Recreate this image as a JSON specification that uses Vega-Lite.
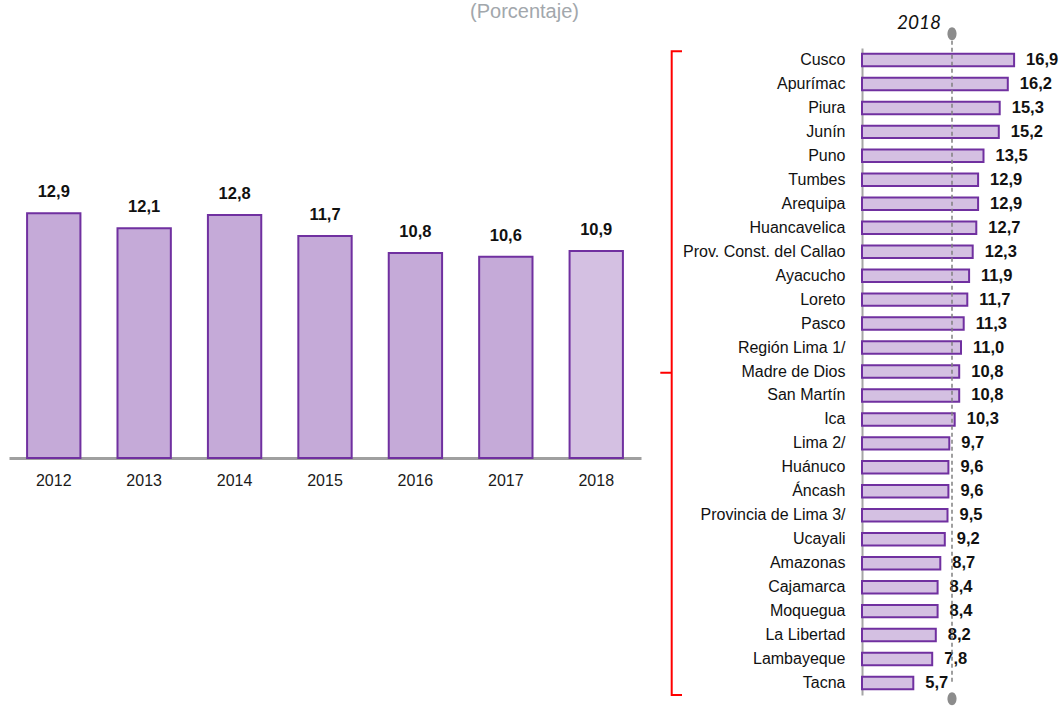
{
  "$schema": "https://vega.github.io/schema/vega-lite/v6.json",
  "padding": {"left": 9, "top": 2, "right": 0, "bottom": 0},
  "autosize": {"type": "pad"},
  "bounds": "flush",
  "spacing": 19,
  "title": {"text": "(Porcentaje)", "anchor": "middle", "font": "Liberation Sans", "fontSize": 20, "fontWeight": "normal", "color": "#a2a7ac", "dx": -10, "offset": -8},
  "config": {
    "view": {"stroke": null},
    "locale": {"number": {"decimal": ",", "thousands": ".", "grouping": [3], "currency": ["", ""]}}
  },
  "hconcat": [
    {
      "width": 632,
      "height": 410,
      "data": {"values": [
        {"anio": "2012", "valor": 12.9, "serie": "historico"},
        {"anio": "2013", "valor": 12.1, "serie": "historico"},
        {"anio": "2014", "valor": 12.8, "serie": "historico"},
        {"anio": "2015", "valor": 11.7, "serie": "historico"},
        {"anio": "2016", "valor": 10.8, "serie": "historico"},
        {"anio": "2017", "valor": 10.6, "serie": "historico"},
        {"anio": "2018", "valor": 10.9, "serie": "actual"}
      ]},
      "encoding": {
        "x": {"field": "anio", "type": "ordinal", "scale": {"paddingInner": 0.41, "paddingOuter": 0.2},
          "axis": {"title": null, "labelAngle": 0, "ticks": false, "domainColor": "#a0a0a0", "domainWidth": 3,
            "labelFont": "Liberation Sans", "labelFontSize": 16, "labelColor": "#1a1a1a", "labelPadding": 14}},
        "y": {"field": "valor", "type": "quantitative", "scale": {"domain": [0, 21.6]}, "axis": null}
      },
      "layer": [
        {"mark": {"type": "bar", "stroke": "#7030a0", "strokeWidth": 2},
         "encoding": {"fill": {"field": "serie", "type": "nominal", "scale": {"domain": ["historico", "actual"], "range": ["#c5aad8", "#d4c0e2"]}, "legend": null}}},
        {"mark": {"type": "text", "dy": -21, "baseline": "middle", "fontWeight": "bold", "fontSize": 16.5, "font": "Liberation Sans", "color": "#111111"},
         "encoding": {"text": {"field": "valor", "type": "quantitative", "format": ".1f"}}}
      ]
    },
    {
      "width": 183,
      "height": 647,
      "data": {"values": [
        {"i": 0, "bx": 22, "by": 0.995},
        {"i": 1, "bx": 11.7, "by": 0.995},
        {"i": 2, "bx": 11.7, "by": 0.498},
        {"i": 3, "bx": 0.3, "by": 0.498},
        {"i": 4, "bx": 11.7, "by": 0.498},
        {"i": 5, "bx": 11.7, "by": 0.0},
        {"i": 6, "bx": 22, "by": 0.0}
      ]},
      "mark": {"type": "line", "color": "#ff0000", "strokeWidth": 2, "strokeJoin": "miter"},
      "encoding": {
        "x": {"field": "bx", "type": "quantitative", "scale": {"domain": [0, 183]}, "axis": null},
        "y": {"field": "by", "type": "quantitative", "scale": {"domain": [0, 1]}, "axis": null},
        "order": {"field": "i", "type": "quantitative"}
      }
    },
    {
      "width": 198,
      "height": 647,
      "title": {"text": "2018", "font": "Lato", "fontStyle": "italic", "fontSize": 19, "fontWeight": "normal", "color": "#111111", "anchor": "middle", "dx": -42, "offset": -6},
      "layer": [
        {
          "data": {"values": [
            {"region": "Cusco", "valor": 16.9},
            {"region": "Apurímac", "valor": 16.2},
            {"region": "Piura", "valor": 15.3},
            {"region": "Junín", "valor": 15.2},
            {"region": "Puno", "valor": 13.5},
            {"region": "Tumbes", "valor": 12.9},
            {"region": "Arequipa", "valor": 12.9},
            {"region": "Huancavelica", "valor": 12.7},
            {"region": "Prov. Const. del Callao", "valor": 12.3},
            {"region": "Ayacucho", "valor": 11.9},
            {"region": "Loreto", "valor": 11.7},
            {"region": "Pasco", "valor": 11.3},
            {"region": "Región Lima 1/", "valor": 11.0},
            {"region": "Madre de Dios", "valor": 10.8},
            {"region": "San Martín", "valor": 10.8},
            {"region": "Ica", "valor": 10.3},
            {"region": "Lima 2/", "valor": 9.7},
            {"region": "Huánuco", "valor": 9.6},
            {"region": "Áncash", "valor": 9.6},
            {"region": "Provincia de Lima 3/", "valor": 9.5},
            {"region": "Ucayali", "valor": 9.2},
            {"region": "Amazonas", "valor": 8.7},
            {"region": "Cajamarca", "valor": 8.4},
            {"region": "Moquegua", "valor": 8.4},
            {"region": "La Libertad", "valor": 8.2},
            {"region": "Lambayeque", "valor": 7.8},
            {"region": "Tacna", "valor": 5.7}
          ]},
          "encoding": {
            "y": {"field": "region", "type": "nominal", "sort": null,
              "scale": {"paddingInner": 0.48, "paddingOuter": 0.24,
                "domain": ["Cusco", "Apurímac", "Piura", "Junín", "Puno", "Tumbes", "Arequipa", "Huancavelica", "Prov. Const. del Callao", "Ayacucho", "Loreto", "Pasco", "Región Lima 1/", "Madre de Dios", "San Martín", "Ica", "Lima 2/", "Huánuco", "Áncash", "Provincia de Lima 3/", "Ucayali", "Amazonas", "Cajamarca", "Moquegua", "La Libertad", "Lambayeque", "Tacna"]},
              "axis": {"title": null, "ticks": false, "domainColor": "#a6a6a6", "domainWidth": 2,
                "labelFont": "Liberation Sans", "labelFontSize": 16, "labelColor": "#111111", "labelPadding": 17, "labelLimit": 300}},
            "x": {"field": "valor", "type": "quantitative", "scale": {"domain": [0, 21.76]}, "axis": null}
          },
          "layer": [
            {"mark": {"type": "bar", "fill": "#d4c0e2", "stroke": "#7030a0", "strokeWidth": 2}},
            {"mark": {"type": "text", "align": "left", "dx": 12, "baseline": "middle", "fontWeight": "bold", "fontSize": 16.5, "font": "Liberation Sans", "color": "#111111"},
             "encoding": {"text": {"field": "valor", "type": "quantitative", "format": ".1f"}}}
          ]
        },
        {
          "data": {"values": [{"ref": 10.0, "top": "Cusco", "bottom": "Tacna"}]},
          "layer": [
            {"mark": {"type": "rule", "color": "#808080", "strokeWidth": 1.5, "strokeDash": [4, 3]},
             "encoding": {
               "x": {"field": "ref", "type": "quantitative"},
               "y": {"field": "top", "type": "nominal"},
               "y2": {"field": "bottom"},
               "yOffset": {"value": -20},
               "y2Offset": {"value": 22}
             }},
            {"mark": {"type": "point", "shape": "M0,-1A0.7,1 0 1,1 0,1A0.7,1 0 1,1 0,-1Z", "size": 169, "filled": true, "color": "#8c8c8c", "opacity": 1},
             "encoding": {
               "x": {"field": "ref", "type": "quantitative"},
               "y": {"field": "top", "type": "nominal"},
               "yOffset": {"value": -20}
             }},
            {"mark": {"type": "point", "shape": "M0,-1A0.7,1 0 1,1 0,1A0.7,1 0 1,1 0,-1Z", "size": 169, "filled": true, "color": "#8c8c8c", "opacity": 1},
             "encoding": {
               "x": {"field": "ref", "type": "quantitative"},
               "y": {"field": "bottom", "type": "nominal"},
               "yOffset": {"value": 22}
             }}
          ]
        }
      ]
    }
  ]
}
